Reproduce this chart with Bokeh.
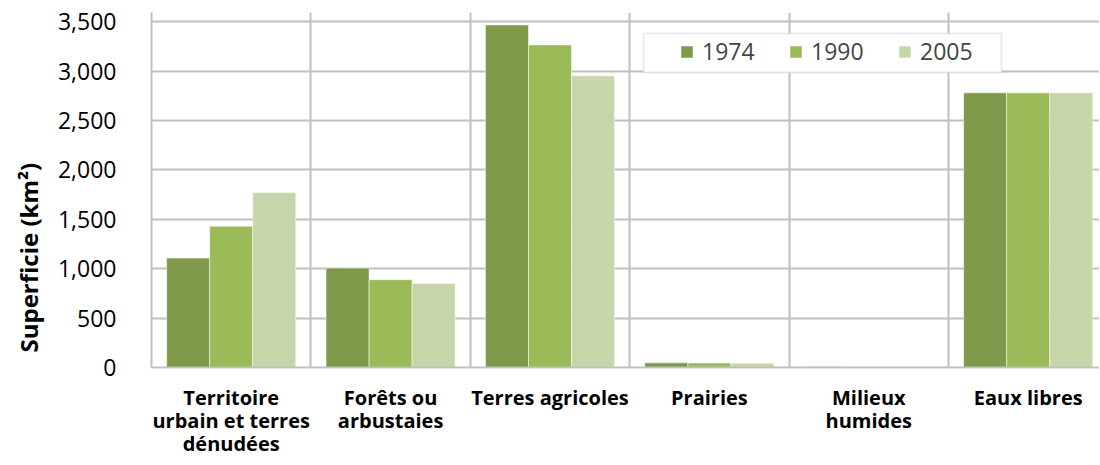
from bokeh.plotting import figure
from bokeh.models import (ColumnDataSource, FixedTicker, NumeralTickFormatter,
                          Title, Legend, BoxAnnotation)
from bokeh.transform import dodge
from bokeh.embed import file_html
from bokeh.resources import INLINE

categories = ["Territoire\nurbain et terres\ndénudées", "Forêts ou\narbustaies",
              "Terres agricoles", "Prairies", "Milieux\nhumides", "Eaux libres"]
years = ["1974", "1990", "2005"]
v1974 = [1107, 1006, 3467, 47, 7, 2780]
v1990 = [1430, 889, 3265, 46, 6, 2780]
v2005 = [1770, 851, 2952, 44, 5, 2780]
y_ticks = [0, 500, 1000, 1500, 2000, 2500, 3000, 3500]
colors = ["#7F994A", "#9BBB59", "#C6D6AA"]

FONT = "Open Sans"
GRID = "#C0C0C0"

xs = [i + 0.5 for i in range(len(categories))]
src = ColumnDataSource(dict(x=xs, v1974=v1974, v1990=v1990, v2005=v2005))

x_end = 948 / 159.4
y_end = 3593

p = figure(frame_width=948, frame_height=355, output_backend="svg",
           toolbar_location=None,
           x_range=(0, x_end), y_range=(0, y_end),
           min_border_left=144, min_border_right=0, min_border_top=12,
           min_border_bottom=4)

bw = 0.27
renderers = []
for off, col, c, yr in zip([-bw, 0, bw], ["v1974", "v1990", "v2005"], colors, years):
    r = p.vbar(x=dodge("x", off), top=col, width=bw, source=src,
               fill_color=c, line_color="white", line_alpha=0.5, line_width=1)
    renderers.append((yr, [r]))

# grids
p.xgrid.ticker = FixedTicker(ticks=list(range(len(categories) + 1)))
p.xgrid.grid_line_color = GRID
p.xgrid.grid_line_width = 2
p.ygrid.ticker = FixedTicker(ticks=y_ticks[1:] + [y_end])
p.ygrid.grid_line_color = GRID
p.ygrid.grid_line_width = 2
p.outline_line_color = None

# x axis
p.xaxis.ticker = FixedTicker(ticks=xs)
p.xaxis.major_label_overrides = {x: c for x, c in zip(xs, categories)}
p.xaxis.major_label_text_font = FONT
p.xaxis.major_label_text_font_style = "bold"
p.xaxis.major_label_text_font_size = "20px"
p.xaxis.major_label_text_line_height = 0.86
p.xaxis.major_label_text_color = "black"
p.xaxis.major_label_standoff = 10
p.xaxis.major_tick_line_color = None
p.xaxis.minor_tick_line_color = None
p.xaxis.axis_line_color = GRID
p.xaxis.axis_line_width = 2

# y axis
p.yaxis.ticker = FixedTicker(ticks=y_ticks)
p.yaxis.formatter = NumeralTickFormatter(format="0,0")
p.yaxis.major_label_text_font = FONT
p.yaxis.major_label_text_font_size = "23px"
p.yaxis.major_label_text_color = "black"
p.yaxis.major_label_standoff = 29
p.yaxis.major_tick_line_color = None
p.yaxis.minor_tick_line_color = None
p.yaxis.axis_line_color = GRID
p.yaxis.axis_line_width = 2

ylab = Title(text="Superficie (km²)", align="left", offset=15, standoff=19,
             text_font=FONT, text_font_style="bold", text_font_size="24px",
             text_color="black")
p.add_layout(ylab, "left")

box = BoxAnnotation(left=492, right=850, bottom=295, top=334,
                    left_units="screen", right_units="screen",
                    bottom_units="screen", top_units="screen",
                    fill_color="white", fill_alpha=1,
                    line_color=GRID, line_width=2)
p.add_layout(box)

legend = Legend(items=renderers, orientation="horizontal", location=(528, 300),
                glyph_width=15, glyph_height=15, label_text_font=FONT,
                label_text_font_size="23px", label_standoff=8,
                label_width=60, label_height=28, spacing=26,
                padding=0, margin=0, border_line_color=None,
                background_fill_alpha=0)
p.add_layout(legend)

open("out.html", "w").write(file_html(p, INLINE))
